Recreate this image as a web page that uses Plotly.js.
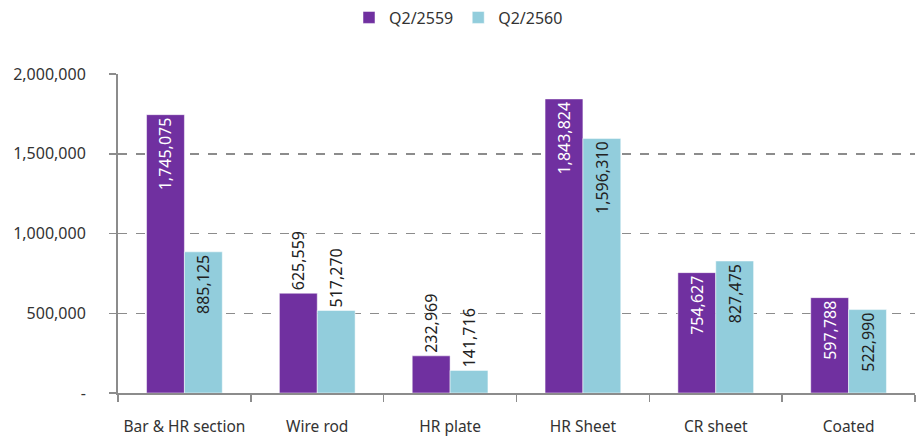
<!DOCTYPE html>
<html><head><meta charset="utf-8">
<script src="https://cdn.plot.ly/plotly-3.0.1.min.js"></script>
<style>html,body{margin:0;padding:0;background:#fff}#chart{width:917px;height:438px}</style>
</head><body><div id="chart"></div>
<script>
const categories = ['Bar & HR section','Wire rod','HR plate','HR Sheet','CR sheet','Coated'];
const seriesNames = ['Q2/2559','Q2/2560'];
const q2_2559 = [1745075, 625559, 232969, 1843824, 754627, 597788];
const q2_2560 = [885125, 517270, 141716, 1596310, 827475, 522990];
const pos2559 = ['inside','outside','outside','inside','inside','inside'];
const pos2560 = ['inside','outside','outside','inside','inside','inside'];
const yTickVals = [0, 500000, 1000000, 1500000, 2000000];
const yTickText = ['-', '500,000', '1,000,000', '1,500,000', '2,000,000'];

const fmt = v => v.toLocaleString('en-US');
const font = 'Noto Sans, Open Sans, sans-serif';
const fs = 16;

const traces = [
  {type:'bar', name:seriesNames[0], x:categories, y:q2_2559, text:q2_2559.map(fmt),
   textposition:pos2559, textangle:-90, insidetextanchor:'end', constraintext:'none',
   insidetextfont:{color:'#ffffff', size:fs, family:font},
   outsidetextfont:{color:'#222', size:fs, family:font},
   marker:{color:'#7030A0', line:{color:'#ffffff', width:0.5}}, cliponaxis:false},
  {type:'bar', name:seriesNames[1], x:categories, y:q2_2560, text:q2_2560.map(fmt),
   textposition:pos2560, textangle:-90, insidetextanchor:'end', constraintext:'none',
   insidetextfont:{color:'#222', size:fs, family:font},
   outsidetextfont:{color:'#222', size:fs, family:font},
   marker:{color:'#92CDDC', line:{color:'#ffffff', width:0.5}}, cliponaxis:false}
];

const layout = {
  width:917, height:438,
  margin:{l:118, r:2, t:74, b:45, autoexpand:false},
  paper_bgcolor:'#fff', plot_bgcolor:'#fff',
  barmode:'group', bargap:0.43, bargroupgap:0,
  font:{family:font, size:fs, color:'#333'},
  showlegend:true,
  legend:{orientation:'h', x:0.5, xanchor:'center', xref:'container', y:0.96, yanchor:'middle', yref:'container',
          font:{size:fs, color:'#333'}, traceorder:'normal'},
  xaxis:{type:'category', showline:true, linecolor:'#8c8c8c', linewidth:2,
         ticks:'outside', tickson:'boundaries', ticklen:7, tickcolor:'#8c8c8c', tickwidth:1.5,
         tickangle:0, tickfont:{size:15.5, color:'#333'}, showgrid:false, ticklabelstandoff:18, automargin:false},
  yaxis:{range:[0,2000000], tickvals:yTickVals, ticktext:yTickText,
         showline:true, linecolor:'#8c8c8c', linewidth:2,
         ticks:'outside', ticklen:7, tickcolor:'#8c8c8c', tickwidth:1.5,
         showgrid:true, gridcolor:'#8c8c8c', griddash:'dash', gridwidth:1.5,
         zeroline:false, tickfont:{size:fs, color:'#333'}, ticklabelstandoff:20, automargin:false}
};
Plotly.newPlot('chart', traces, layout, {displayModeBar:false, staticPlot:true});
</script></body></html>
